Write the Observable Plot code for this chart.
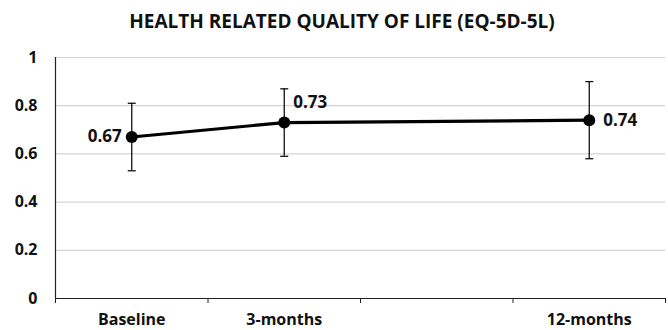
<!DOCTYPE html>
<html>
<head>
<meta charset="utf-8">
<script src="https://cdn.jsdelivr.net/npm/d3@7"></script>
<script src="https://cdn.jsdelivr.net/npm/@observablehq/plot@0.6"></script>
<style>
  html, body { margin: 0; padding: 0; background: #fff; overflow: hidden; }
  #title { height: 40px; line-height: 42px; padding-left: 16px; text-align: center; overflow: visible;
    font-family: "Open Sans", sans-serif; font-weight: bold; font-size: 19px; color: #111; }
  #chart svg { display: block; }
</style>
</head>
<body>
<div id="title">HEALTH RELATED QUALITY OF LIFE (EQ-5D-5L)</div>
<div id="chart"></div>
<script>
const categories = ["Baseline", "3-months", "12-months"];
const slots = [0, 1, 3];          // category slot (third slot is empty)
const slotCount = 4;
const means = [0.67, 0.73, 0.74];
const lower = [0.53, 0.59, 0.58];
const upper = [0.81, 0.87, 0.90];
const valueLabels = ["0.67", "0.73", "0.74"];
const yTicks = [0, 0.2, 0.4, 0.6, 0.8, 1];

const data = categories.map((c, i) => ({
  cat: c, pos: slots[i] + 0.5, mean: means[i], lo: lower[i], hi: upper[i], label: valueLabels[i]
}));
const boundaries = d3.range(slotCount + 1);
const labelByPos = new Map(data.map(d => [d.pos, d.cat]));

const cap = {
  draw(ctx, size) {
    const r = Math.sqrt(size / Math.PI);
    ctx.moveTo(-r, 0);
    ctx.lineTo(r, 0);
  }
};

const font = "'Open Sans', sans-serif";

const chart = Plot.plot({
  width: 668,
  height: 290,
  marginTop: 17,
  marginBottom: 32,
  marginLeft: 55,
  marginRight: 3,
  style: { fontFamily: font, fontSize: "14px", fontWeight: "bold", color: "#111", background: "#fff", overflow: "visible" },
  x: { domain: [0, slotCount], axis: null },
  y: { domain: [0, 1], axis: null },
  marks: [
    Plot.ruleY(yTicks.filter(d => d > 0), { stroke: "#d4d4d4", strokeWidth: 1.2 }),
    Plot.axisY({ ticks: yTicks, tickSize: 0, tickPadding: 18, tickFormat: d => String(d), fontSize: 16, label: null }),
    Plot.axisX({ ticks: boundaries, tickSize: 5, tickFormat: () => "", stroke: "#222", label: null }),
    Plot.axisX({ ticks: data.map(d => d.pos), tickSize: 0, tickPadding: 15, tickFormat: d => labelByPos.get(d), fontSize: 16, label: null }),
    Plot.ruleX([0], { stroke: "#222", strokeWidth: 1.2 }),
    Plot.ruleY([0], { stroke: "#222", strokeWidth: 1.2 }),
    Plot.ruleX(data, { x: "pos", y1: "lo", y2: "hi", stroke: "#111", strokeWidth: 1.3 }),
    Plot.dot(data, { x: "pos", y: "lo", symbol: cap, r: 4, stroke: "#111", strokeWidth: 1.3 }),
    Plot.dot(data, { x: "pos", y: "hi", symbol: cap, r: 4, stroke: "#111", strokeWidth: 1.3 }),
    Plot.line(data, { x: "pos", y: "mean", stroke: "#000", strokeWidth: 3.2 }),
    Plot.dot(data, { x: "pos", y: "mean", r: 6, fill: "#000" }),
    Plot.text(data.slice(0, 1), { x: "pos", y: "mean", text: "label", dx: -10, textAnchor: "end", fontSize: 17, fill: "#111" }),
    Plot.text(data.slice(1, 2), { x: "pos", y: "mean", text: "label", dx: 9, dy: -20, textAnchor: "start", fontSize: 17, fill: "#111" }),
    Plot.text(data.slice(2, 3), { x: "pos", y: "mean", text: "label", dx: 14, textAnchor: "start", fontSize: 17, fill: "#111" })
  ]
});
document.getElementById("chart").appendChild(chart);
</script>
</body>
</html>
